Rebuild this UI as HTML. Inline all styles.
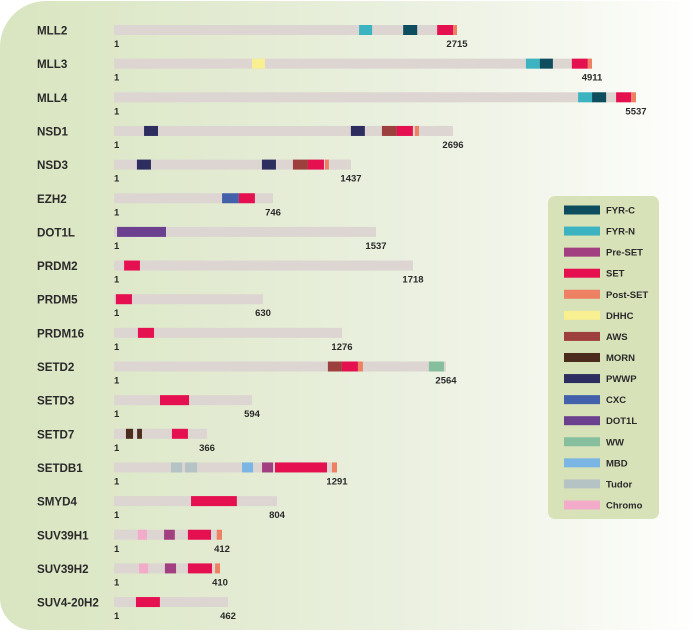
<!DOCTYPE html>
<html><head><meta charset="utf-8">
<style>
html,body{margin:0;padding:0;background:#fff;}
#wrap{position:relative;width:700px;height:632px;overflow:hidden;background:#fff;}
#panel{position:absolute;left:0;top:1px;width:720px;height:629px;border-radius:46px 0 0 32px;
background:linear-gradient(90deg,#d9e5c0 0%,#e2ebd1 30%,#eaf0df 55%,#f3f6ec 75%,#fbfcf8 90%,#ffffff 97%);}
svg{position:absolute;left:0;top:0;}
text{font-family:"Liberation Sans",sans-serif;font-weight:bold;fill:#2a2a2a;}
</style></head>
<body>
<div id="wrap">
<div id="panel"></div>
<svg id="chart" width="700" height="632"></svg>
</div>
<script>
const proteins=["MLL2","MLL3","MLL4","NSD1","NSD3","EZH2","DOT1L","PRDM2","PRDM5","PRDM16","SETD2","SETD3","SETD7","SETDB1","SMYD4","SUV39H1","SUV39H2","SUV4-20H2"];
const lengths=[2715,4911,5537,2696,1437,746,1537,1718,630,1276,2564,594,366,1291,804,412,410,462];
const domainTypes=["FYR-C","FYR-N","Pre-SET","SET","Post-SET","DHHC","AWS","MORN","PWWP","CXC","DOT1L","WW","MBD","Tudor","Chromo"];
// domains per protein: [type, startResidue, endResidue]
const domains=[
 [["FYR-N",1940,2043],["FYR-C",2289,2400],["SET",2558,2685],["Post-SET",2685,2715]],
 [["DHHC",1417,1551],["FYR-N",4232,4375],["FYR-C",4375,4509],["SET",4704,4868],["Post-SET",4868,4911]],
 [["FYR-N",4923,5071],["FYR-C",5071,5220],["SET",5326,5485],["Post-SET",5485,5537]],
 [["PWWP",239,350],["PWWP",1884,1995],["AWS",2131,2250],["SET",2250,2377],["Post-SET",2393,2425]],
 [["PWWP",139,224],["PWWP",897,982],["AWS",1085,1176],["SET",1176,1273],["Post-SET",1279,1303]],
 [["CXC",507,586],["SET",586,661]],
 [["DOT1L",18,305]],
 [["SET",58,149]],
 [["SET",8,76]],
 [["SET",134,224]],
 [["AWS",1652,1760],["SET",1760,1884],["Post-SET",1884,1922],["WW",2432,2548]],
 [["SET",198,323]],
 [["MORN",47,75],["MORN",91,110],["SET",228,291]],
 [["Tudor",330,394],["Tudor",411,481],["MBD",741,805],["Pre-SET",857,921],["SET",932,1233],["Post-SET",1262,1291]],
 [["SET",380,606]],
 [["Chromo",91,126],["Pre-SET",191,232],["SET",282,370],["Post-SET",392,412]],
 [["Chromo",97,132],["Pre-SET",197,240],["SET",286,379],["Post-SET",391,410]],
 [["SET",89,186]]
];
// layout (display geometry, not data)
const colors={"FYR-C":"#0e4d5e","FYR-N":"#3bb3c0","Pre-SET":"#a23f80","SET":"#e5104f","Post-SET":"#ee8063","DHHC":"#f8ef90","AWS":"#9d403d","MORN":"#4b2b1c","PWWP":"#2e2d5f","CXC":"#4361ab","DOT1L":"#6a408f","WW":"#85bf9d","MBD":"#7bb5e3","Tudor":"#b5c3c5","Chromo":"#f2abc9"};
const rowDisplayWidth=[343,478,522,339,237,159,262,299,149,228,332,138,93,223,163,108,106,114];
const X0=114, ROW0=30, ROWSTEP=33.65, BARH=10;
const NS="http://www.w3.org/2000/svg";
const svg=document.getElementById('chart');
function mk(tag,attrs){const e=document.createElementNS(NS,tag);for(const k in attrs)e.setAttribute(k,attrs[k]);return e;}
function yRow(i){return ROW0+i*ROWSTEP;}
function xRes(i,r){return X0+r/lengths[i]*rowDisplayWidth[i];}
proteins.forEach((p,i)=>{
  const g=mk('g',{});
  
  
  const cy=yRow(i);
  const lab=mk('text',{x:37,y:cy+4.5,'font-size':11.6});
  lab.textContent=p;
  
  
  g.appendChild(lab);
  const bar=mk('rect',{x:X0,y:cy-BARH/2,width:xRes(i,lengths[i])-X0,height:BARH,fill:'#ddd5d1'});
  
  
  g.appendChild(bar);
  domains[i].forEach(d=>{
    const x1=xRes(i,d[1]),x2=xRes(i,d[2]);
    const r=mk('rect',{x:x1,y:cy-BARH/2,width:Math.max(1,x2-x1),height:BARH,fill:colors[d[0]]});
    
    
    g.appendChild(r);
  });
  const t1=mk('text',{x:X0,y:cy+17,'font-size':9.5});
  t1.textContent='1';
  
  
  g.appendChild(t1);
  const t2=mk('text',{x:xRes(i,lengths[i]),y:cy+17,'font-size':9.5,'text-anchor':'middle'});
  t2.textContent=String(lengths[i]);
  
  
  g.appendChild(t2);
  svg.appendChild(g);
});
// legend
const lg=mk('g',{});


const box=mk('rect',{x:548,y:196,width:111,height:323,rx:7,fill:'#d7e2b9'});


lg.appendChild(box);
domainTypes.forEach((d,k)=>{
  const cy=210+k*21.07;
  const e=mk('g',{});
  
  
  const sw=mk('rect',{x:564,y:cy-4.5,width:36,height:9,fill:colors[d]});
  
  
  e.appendChild(sw);
  const t=mk('text',{x:606,y:cy+3.5,'font-size':9.5});
  t.textContent=d;
  
  
  e.appendChild(t);
  lg.appendChild(e);
});
svg.appendChild(lg);
</script>
</body></html>
